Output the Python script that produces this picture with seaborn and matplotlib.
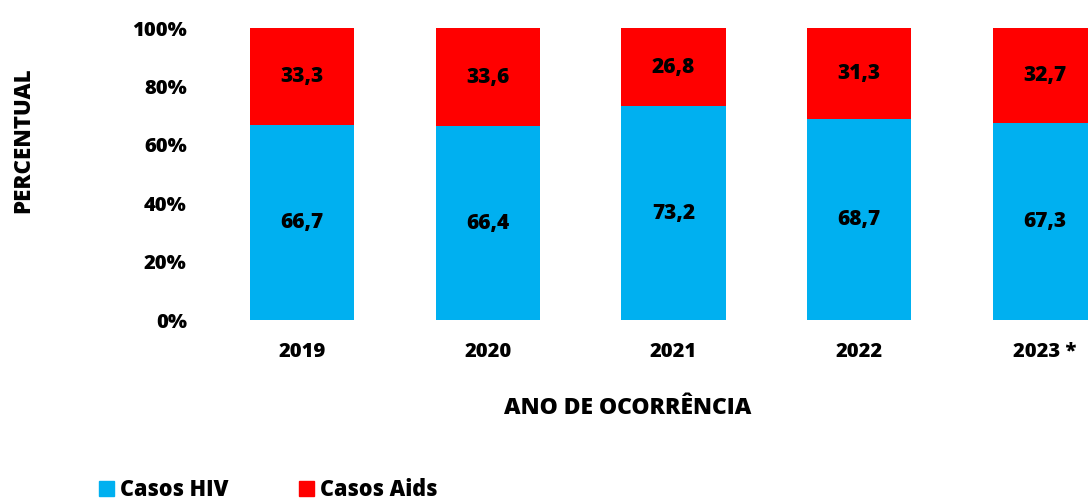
import matplotlib
matplotlib.use("Agg")
import matplotlib.pyplot as plt
import seaborn as sns
import pandas as pd
from matplotlib.patches import Patch

# === Data ===
anos = ["2019", "2020", "2021", "2022", "2023 *"]
casos_hiv = [66.7, 66.4, 73.2, 68.7, 67.3]
casos_aids = [33.3, 33.6, 26.8, 31.3, 32.7]

azul = "#00B0F0"
vermelho = "#FF0000"

sns.set_theme(style="white")
plt.rcParams["font.family"] = ["Open Sans", "DejaVu Sans"]
plt.rcParams["text.color"] = "black"
plt.rcParams["xtick.color"] = "black"
plt.rcParams["ytick.color"] = "black"

PESO = 800  # extra bold, closest to the original heavy font

df = pd.DataFrame({"ano": anos, "hiv": casos_hiv, "aids": casos_aids})
df["total"] = df["hiv"] + df["aids"]

fig = plt.figure(figsize=(10.88, 5.0), dpi=100)
ax = fig.add_axes([209 / 1088, 180 / 500, 929 / 1088, 292 / 500])

# stacked: total in red behind, HIV in blue in front
sns.barplot(data=df, x="ano", y="total", color=vermelho, width=0.56,
            saturation=1, linewidth=0, ax=ax)
sns.barplot(data=df, x="ano", y="hiv", color=azul, width=0.56,
            saturation=1, linewidth=0, ax=ax)

for i, row in df.iterrows():
    ax.text(i, row["hiv"] / 2, f"{row['hiv']:.1f}".replace(".", ","),
            ha="center", va="center", fontsize=15, fontweight=PESO, color="black")
    ax.text(i, row["hiv"] + row["aids"] / 2, f"{row['aids']:.1f}".replace(".", ","),
            ha="center", va="center", fontsize=15, fontweight=PESO, color="black")

ax.set_ylim(0, 100)
ax.set_xlim(-0.5, 4.5)
ax.set_yticks([0, 20, 40, 60, 80, 100])
ax.set_yticklabels([f"{v}%" for v in [0, 20, 40, 60, 80, 100]])
ax.tick_params(axis="y", labelsize=14.5, pad=16, length=0)
ax.tick_params(axis="x", labelsize=14.5, pad=15.5, length=0)
for lbl in ax.get_xticklabels() + ax.get_yticklabels():
    lbl.set_fontweight(PESO)
sns.despine(ax=ax, left=True, bottom=True)
ax.set_xlabel("")
ax.set_ylabel("")

fig.text(23 / 1088, 1 - 140 / 500, "PERCENTUAL", rotation=90, ha="center",
         va="center", fontsize=16, fontweight=PESO)
fig.text(628 / 1088, 1 - 408 / 500, "ANO DE OCORRÊNCIA", ha="center",
         va="center", fontsize=16.5, fontweight=PESO)

handles = [Patch(color=azul, label="Casos HIV"), Patch(color=vermelho, label="Casos Aids")]
fig.legend(handles=handles, loc="center left", bbox_to_anchor=(80 / 1088, 1 - 490 / 500),
           ncol=2, frameon=False, handlelength=0.7, handleheight=0.7,
           handletextpad=0.25, columnspacing=3.3, prop={"weight": PESO, "size": 15.5})

fig.savefig("out.png", dpi=100)
